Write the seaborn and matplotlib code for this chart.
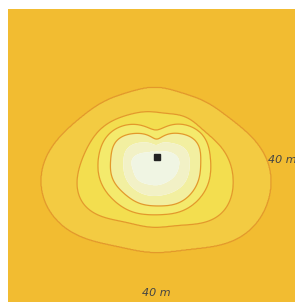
import numpy as np
import matplotlib
matplotlib.use("Agg")
import matplotlib.pyplot as plt
import seaborn as sns

# directions from the source (degrees, counter-clockwise from east)
angles = [0, 22.5, 45, 67.5, 90, 112.5, 135, 157.5, 180, 202.5, 225, 247.5, 270, 292.5, 315, 337.5]

# distance (m) from the source to each zone boundary, outer -> inner
zone1 = [31.1, 25.0, 21.4, 19.9, 19.9, 20.3, 22.0, 25.6, 31.4, 34.3, 31.4, 27.7, 27.0, 28.3, 32.6, 34.3]
zone2 = [20.3, 16.4, 14.6, 13.4, 12.9, 13.9, 15.7, 18.4, 21.0, 24.4, 23.3, 20.3, 19.9, 20.9, 24.1, 23.6]
zone3 = [15.4, 14.8, 12.9, 9.9, 7.9, 9.7, 13.0, 15.4, 16.6, 17.3, 17.3, 16.9, 16.4, 16.8, 17.0, 16.3]
zone4 = [12.7, 12.1, 9.7, 6.9, 5.3, 6.9, 9.7, 12.3, 13.1, 13.8, 13.9, 13.9, 13.9, 14.3, 14.3, 13.3]
zone5 = [9.4, 8.0, 5.9, 4.6, 3.6, 4.4, 6.1, 8.3, 9.4, 10.1, 10.9, 11.1, 11.0, 10.9, 10.9, 10.1]
zone6 = [6.1, 4.1, 2.4, 1.8, 1.7, 1.8, 2.3, 3.7, 6.6, 7.6, 8.2, 8.2, 7.9, 7.7, 7.4, 7.0]
zones = [zone1, zone2, zone3, zone4, zone5, zone6]

zone_colors = ["#F2BC31", "#F3CB42", "#F3DE4F", "#F4EA6C", "#F2EFA0", "#F2F1C6", "#F0F5E3"]
line_color = "#E3992A"
outlined = 4  # boundaries drawn with a line

source_x, source_y = 0.0, 0.0
scale_labels = ["40 m", "40 m"]

sns.set_style("white")


def smooth_ring(values, n=720):
    # periodic (trigonometric) resampling of the boundary radii
    spec = np.fft.rfft(values)
    return np.fft.irfft(spec, n) * n / len(values)


# build a field: value k on boundary k, rising toward the source
xs = np.linspace(-43, 40, 500)
ys = np.linspace(-42, 43, 500)
X, Y = np.meshgrid(xs, ys)
R = np.hypot(X - source_x, Y - source_y)
T = np.degrees(np.arctan2(Y - source_y, X - source_x)) % 360

fine = np.linspace(0, 360, 721)
radii = []
for z in zones:
    ring = smooth_ring(np.array(z))
    radii.append(np.interp(T, fine, np.append(ring, ring[0])))

bounds = [np.full_like(R, 200.0)] + radii + [np.zeros_like(R)]
F = np.zeros_like(R)
for k in range(len(bounds) - 1):
    outer, inner = bounds[k], bounds[k + 1]
    inside = (R <= outer) & (R > inner)
    F[inside] = k + (outer[inside] - R[inside]) / (outer[inside] - inner[inside])
F[R == 0] = len(zones) + 1

fig = plt.figure(figsize=(2.95, 3.02), dpi=100)
ax = fig.add_axes([8 / 295, 0, 287 / 295, 293 / 302])
levels = np.arange(0, len(zones) + 2)
ax.contourf(X, Y, F, levels=levels, colors=zone_colors, antialiased=True)
ax.contour(X, Y, F, levels=levels[1:outlined + 1], colors=line_color, linewidths=0.9)

ax.plot(source_x, source_y, marker="s", color="#222222", markersize=4.2, linestyle="none")

ax.text(31.9, -0.8, scale_labels[0], fontsize=8, style="italic", color="#444444",
        ha="left", va="center")
ax.text(0, -38.8, scale_labels[1], fontsize=8, style="italic", color="#444444",
        ha="center", va="center")

ax.set_xlim(-42.43, 39.57)
ax.set_ylim(-41.29, 42.43)
ax.axis("off")

fig.savefig("out.png", dpi=100)
